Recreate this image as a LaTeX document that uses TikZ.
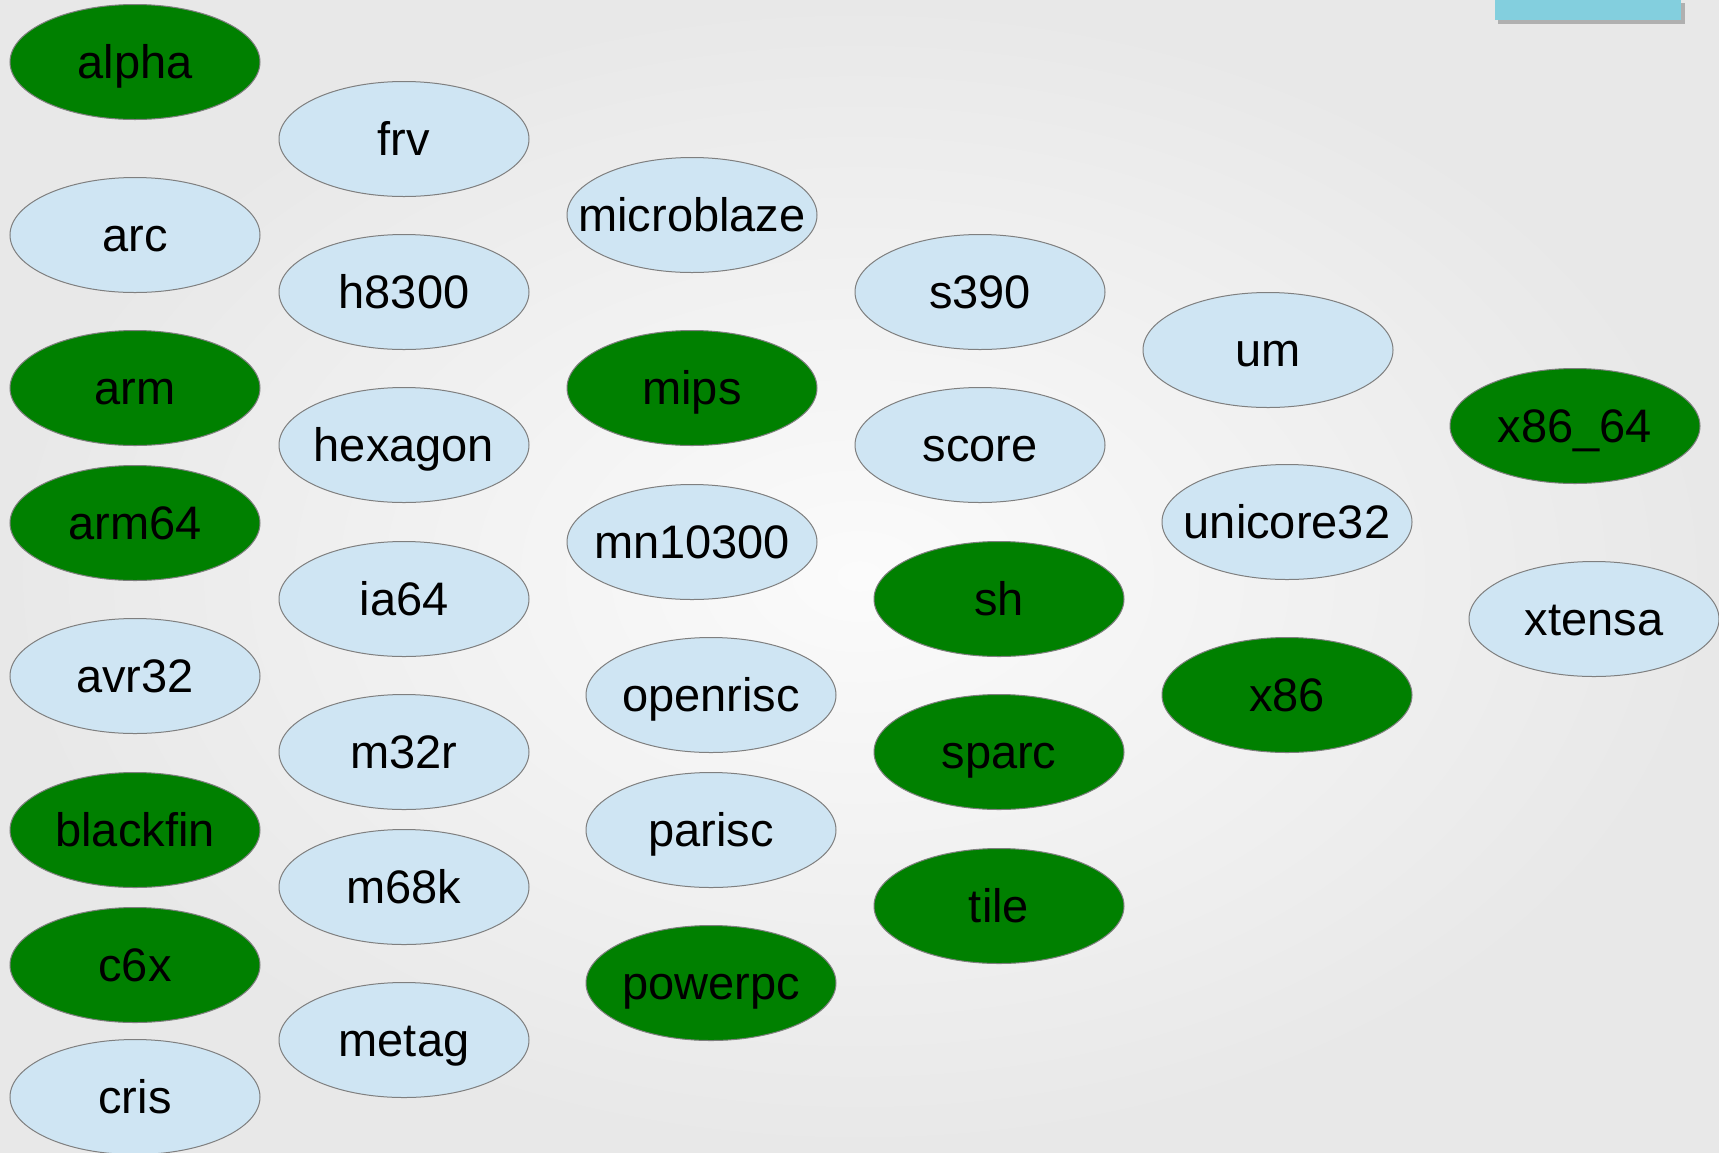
\documentclass[tikz,border=0pt]{standalone}
\usepackage{fontspec}
\setmainfont{Liberation Sans}
\usetikzlibrary{shapes.geometric}
\definecolor{archgreen}{HTML}{008000}
\definecolor{archblue}{HTML}{CFE5F3}
\definecolor{edgegray}{HTML}{7F7F7F}
\definecolor{tabcyan}{HTML}{83CFDE}
\definecolor{bgin}{HTML}{FBFBFB}
\definecolor{bgout}{HTML}{E8E8E8}
\newcommand\archlbl[1]{\raisebox{-16.5pt}[0pt][0pt]{\makebox[0pt]{#1}}}
\tikzset{
  arch/.style={ellipse, draw=edgegray, line width=1pt, minimum width=250pt, minimum height=115pt,
    inner sep=0pt, font=\fontsize{47}{56}\selectfont, text=black},
  archon/.style={arch, fill=archgreen},
  archoff/.style={arch, fill=archblue},
}
\begin{document}
\begin{tikzpicture}[x=1pt,y=-1pt]
\useasboundingbox (0,0) rectangle (1719,1152);
\shade[inner color=bgin, outer color=bgout] (0,0) rectangle (1719,1152);
\fill[black!45, opacity=0.6] (1498,3) rectangle (1685,24);
\node[rectangle, fill=tabcyan, minimum width=186pt, minimum height=30pt, inner sep=0pt, anchor=south west] (tab) at (1495,20) {};
% column 1
\node[archon]  (alpha)    at (135,62)   {\archlbl{alpha}};
\node[archoff] (arc)      at (135,235)  {\archlbl{arc}};
\node[archon]  (arm)      at (135,388)  {\archlbl{arm}};
\node[archon]  (arm64)    at (135,523)  {\archlbl{arm64}};
\node[archoff] (avr32)    at (135,676)  {\archlbl{avr32}};
\node[archon]  (blackfin) at (135,830)  {\archlbl{blackfin}};
\node[archon]  (c6x)      at (135,965)  {\archlbl{c6x}};
\node[archoff] (cris)     at (135,1097) {\archlbl{cris}};
% column 2
\node[archoff] (frv)      at (404,139)  {\archlbl{frv}};
\node[archoff] (h8300)    at (404,292)  {\archlbl{h8300}};
\node[archoff] (hexagon)  at (404,445)  {\archlbl{hexagon}};
\node[archoff] (ia64)     at (404,599)  {\archlbl{ia64}};
\node[archoff] (m32r)     at (404,752)  {\archlbl{m32r}};
\node[archoff] (m68k)     at (404,887)  {\archlbl{m68k}};
\node[archoff] (metag)    at (404,1040) {\archlbl{metag}};
% column 3
\node[archoff] (microblaze) at (692,215) {\archlbl{microblaze}};
\node[archon]  (mips)     at (692,388)  {\archlbl{mips}};
\node[archoff] (mn10300)  at (692,542)  {\archlbl{mn10300}};
\node[archoff] (openrisc) at (711,695)  {\archlbl{openrisc}};
\node[archoff] (parisc)   at (711,830)  {\archlbl{parisc}};
\node[archon]  (powerpc)  at (711,983)  {\archlbl{powerpc}};
% column 4
\node[archoff] (s390)     at (980,292)  {\archlbl{s390}};
\node[archoff] (score)    at (980,445)  {\archlbl{score}};
\node[archon]  (sh)       at (999,599)  {\archlbl{sh}};
\node[archon]  (sparc)    at (999,752)  {\archlbl{sparc}};
\node[archon]  (tile)     at (999,906)  {\archlbl{tile}};
% column 5
\node[archoff] (um)       at (1268,350) {\archlbl{um}};
\node[archoff] (unicore32) at (1287,522) {\archlbl{unicore32}};
\node[archon]  (x86)      at (1287,695) {\archlbl{x86}};
% column 6
\node[archon]  (x86_64)   at (1575,426) {\archlbl{x86\_64}};
\node[archoff] (xtensa)   at (1594,619) {\archlbl{xtensa}};
\end{tikzpicture}
\end{document}
